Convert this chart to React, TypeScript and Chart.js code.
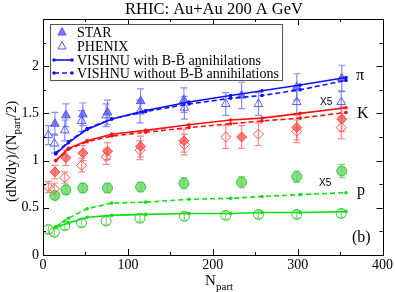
import React, { useEffect, useRef } from 'react';
import { Chart, registerables } from 'chart.js';
Chart.register(...registerables);

// ---- data ----
const starN = [14, 27, 47, 76, 115, 166, 234, 299, 352];
const phenixN = [6.3, 13.4, 25.7, 45.5, 74.4, 114.2, 166.6, 215.3, 253.9, 299, 351.4];
const modelN = [15, 30, 52, 81, 121, 172, 221, 258, 303, 357];

const starPi = [1.39, 1.48, 1.49, 1.51, 1.63, 1.64, 1.69, 1.78, 1.87];
const starPiErr = [0.12, 0.12, 0.12, 0.13, 0.13, 0.13, 0.14, 0.14, 0.14];
const phenixPi = [1.27, 1.18, 1.32, 1.42, 1.48, 1.52, 1.56, 1.6, 1.6, 1.62, 1.62];
const phenixPiErr = [0.1, 0.1, 0.11, 0.11, 0.12, 0.12, 0.12, 0.12, 0.12, 0.12, 0.12];

const starK = [0.88, 1.03, 1.08, 1.1, 1.15, 1.21, 1.25, 1.35, 1.44];
const starKErr = [0.07, 0.08, 0.08, 0.09, 0.11, 0.12, 0.12, 0.13, 0.13];
const phenixK = [0.72, 0.7, 0.82, 0.95, 1.04, 1.11, 1.17, 1.25, 1.28, 1.31, 1.35];
const phenixKErr = [0.06, 0.06, 0.06, 0.07, 0.08, 0.1, 0.11, 0.12, 0.12, 0.12, 0.12];

const starP = [0.63, 0.69, 0.71, 0.71, 0.72, 0.76, 0.77, 0.83, 0.89];
const starPErr = [0.04, 0.05, 0.05, 0.05, 0.05, 0.06, 0.06, 0.06, 0.07];
const phenixP = [0.27, 0.24, 0.31, 0.34, 0.36, 0.39, 0.41, 0.42, 0.43, 0.43, 0.44];
const phenixPErr = [0.04, 0.04, 0.04, 0.04, 0.04, 0.04, 0.04, 0.04, 0.04, 0.04, 0.04];

const piWith = [1.07, 1.19, 1.33, 1.44, 1.53, 1.62, 1.69, 1.74, 1.8, 1.88];
const piWithout = [1.08, 1.2, 1.34, 1.44, 1.52, 1.6, 1.66, 1.69, 1.75, 1.85];
const kWith = [1.0, 1.13, 1.21, 1.28, 1.32, 1.38, 1.43, 1.45, 1.5, 1.56];
const kWithout = [1.0, 1.12, 1.2, 1.26, 1.3, 1.35, 1.39, 1.42, 1.45, 1.51];
const pWith = [0.29, 0.34, 0.4, 0.42, 0.43, 0.44, 0.44, 0.45, 0.45, 0.46];
const pWithout = [0.3, 0.39, 0.49, 0.55, 0.56, 0.59, 0.6, 0.62, 0.64, 0.66];

const xTicks = [0, 100, 200, 300, 400];
const yTicks = [0, 0.5, 1, 1.5, 2, 2.5];

const SERIF = '"Liberation Serif", "DejaVu Serif", serif';
const BLUE = '#1010ff';
const RED = '#ff1010';
const GREEN = '#10e010';

const pts = (xs: number[], ys: number[]) => xs.map((x, i) => ({ x, y: ys[i] }));

function dataSet(xs: number[], ys: number[], errs: number[], style: string, fill: string, stroke: string, errColor: string, open: boolean) {
  return {
    data: pts(xs, ys),
    errors: errs,
    errColor,
    showLine: false,
    pointStyle: style,
    pointRadius: style === 'triangle' ? 5 : 5,
    backgroundColor: open ? 'rgba(0,0,0,0)' : fill,
    borderColor: stroke,
    borderWidth: 1,
  };
}

function modelSet(ys: number[], color: string, dashed: boolean) {
  return {
    data: pts(modelN, ys),
    showLine: true,
    borderColor: color,
    backgroundColor: color,
    borderWidth: 1.6,
    borderDash: dashed ? [5, 3] : [],
    pointRadius: 1.8,
    pointStyle: 'circle',
    pointBorderWidth: 0,
  };
}

const customPlugin = {
  id: 'custom',
  beforeDatasetsDraw(chart: any) {
    const ctx = chart.ctx;
    const ys = chart.scales.y;
    chart.data.datasets.forEach((ds: any, i: number) => {
      if (!ds.errors) return;
      const meta = chart.getDatasetMeta(i);
      ctx.save();
      ctx.strokeStyle = ds.errColor;
      ctx.lineWidth = 1.2;
      meta.data.forEach((el: any, j: number) => {
        const v = ds.data[j].y;
        const e = ds.errors[j];
        const x = el.x;
        const y1 = ys.getPixelForValue(v + e);
        const y2 = ys.getPixelForValue(v - e);
        ctx.beginPath();
        ctx.moveTo(x, y1); ctx.lineTo(x, y2);
        ctx.moveTo(x - 3.5, y1); ctx.lineTo(x + 3.5, y1);
        ctx.moveTo(x - 3.5, y2); ctx.lineTo(x + 3.5, y2);
        ctx.stroke();
      });
      ctx.restore();
    });
  },
  afterDraw(chart: any) {
    const ctx = chart.ctx;
    const a = chart.chartArea;
    const xs = chart.scales.x;
    const ys = chart.scales.y;
    ctx.save();
    // frame
    ctx.strokeStyle = '#000';
    ctx.lineWidth = 1;
    ctx.strokeRect(Math.round(a.left) + 0.5, Math.round(a.top) + 0.5, Math.round(a.right - a.left), Math.round(a.bottom - a.top));
    // ticks
    ctx.beginPath();
    for (let v = 0; v <= 400; v += 50) {
      const x = Math.round(xs.getPixelForValue(v)) + 0.5;
      const L = v % 100 === 0 ? 6 : 3;
      ctx.moveTo(x, a.bottom); ctx.lineTo(x, a.bottom - L);
      ctx.moveTo(x, a.top); ctx.lineTo(x, a.top + L);
    }
    for (let v = 0; v <= 2.5001; v += 0.25) {
      const y = Math.round(ys.getPixelForValue(v)) + 0.5;
      const major = Math.abs(v * 2 - Math.round(v * 2)) < 1e-6;
      const L = major ? 6 : 3;
      ctx.moveTo(a.left, y); ctx.lineTo(a.left + L, y);
      ctx.moveTo(a.right, y); ctx.lineTo(a.right - L, y);
    }
    ctx.stroke();

    // title
    ctx.fillStyle = '#000';
    ctx.font = `16.5px ${SERIF}`;
    ctx.textAlign = 'center';
    ctx.textBaseline = 'middle';
    ctx.fillText('RHIC: Au+Au 200 A GeV', 214, 10);

    // x title
    ctx.textAlign = 'left';
    ctx.textBaseline = 'alphabetic';
    ctx.font = `15px ${SERIF}`;
    ctx.fillText('N', 205, 285);
    ctx.font = `11px ${SERIF}`;
    ctx.fillText('part', 216, 290);

    // y title
    ctx.save();
    ctx.translate(16, 202);
    ctx.rotate(-Math.PI / 2);
    ctx.font = `15px ${SERIF}`;
    let s1 = '(dN/dy)/(N';
    ctx.fillText(s1, 0, 0);
    let w = ctx.measureText(s1).width;
    ctx.font = `11px ${SERIF}`;
    ctx.fillText('part', w, 4);
    w += ctx.measureText('part').width;
    ctx.font = `15px ${SERIF}`;
    ctx.fillText('/2)', w, 0);
    ctx.restore();

    // annotations
    ctx.font = `16px ${SERIF}`;
    ctx.textBaseline = 'middle';
    ctx.fillText('\u03C0', 356, 76);
    ctx.fillText('K', 357, 114);
    ctx.fillText('p', 357, 191);
    ctx.fillText('(b)', 352, 238);
    ctx.font = '10px "Liberation Sans", Arial, sans-serif';
    ctx.fillText('X5', 320, 102);
    ctx.fillText('X5', 319, 183);

    // legend
    ctx.fillStyle = '#fff';
    ctx.fillRect(50, 24, 232, 56);
    ctx.strokeStyle = '#555';
    ctx.lineWidth = 1;
    ctx.strokeRect(50.5, 24.5, 232, 56);
    const rows = [32, 46, 60, 73];
    const tri = (cx: number, cy: number, fill: boolean) => {
      ctx.beginPath();
      ctx.moveTo(cx, cy - 4.5);
      ctx.lineTo(cx + 4, cy + 3);
      ctx.lineTo(cx - 4, cy + 3);
      ctx.closePath();
      if (fill) { ctx.fillStyle = 'rgba(90,90,255,0.8)'; ctx.fill(); }
      ctx.strokeStyle = '#5555ff';
      ctx.stroke();
    };
    tri(62, rows[0], true);
    tri(62, rows[1], false);
    ctx.strokeStyle = BLUE;
    ctx.fillStyle = BLUE;
    ctx.lineWidth = 1.6;
    for (let k = 2; k < 4; k++) {
      ctx.setLineDash(k === 3 ? [5, 3] : []);
      ctx.beginPath();
      ctx.moveTo(54, rows[k]); ctx.lineTo(72, rows[k]);
      ctx.stroke();
      ctx.setLineDash([]);
      ctx.beginPath(); ctx.arc(54, rows[k], 1.8, 0, Math.PI * 2); ctx.fill();
      ctx.beginPath(); ctx.arc(72, rows[k], 1.8, 0, Math.PI * 2); ctx.fill();
    }
    ctx.fillStyle = '#000';
    ctx.font = `14px ${SERIF}`;
    ctx.textAlign = 'left';
    ctx.textBaseline = 'middle';
    const labels = ['STAR', 'PHENIX', 'VISHNU with B-B\u0304 annihilations', 'VISHNU without B-B\u0304 annihilations'];
    labels.forEach((t, k) => ctx.fillText(t, 77, rows[k] + 1));
    ctx.restore();
  },
};

export default function App() {
  const ref = useRef<HTMLCanvasElement>(null);
  useEffect(() => {
    if (!ref.current) return;
    const chart = new Chart(ref.current, {
      type: 'scatter',
      data: {
        datasets: [
          modelSet(piWith, BLUE, false),
          modelSet(piWithout, BLUE, true),
          modelSet(kWith, RED, false),
          modelSet(kWithout, RED, true),
          modelSet(pWith, GREEN, false),
          modelSet(pWithout, GREEN, true),
          dataSet(starN, starPi, starPiErr, 'triangle', 'rgba(90,90,255,0.75)', '#5555ff', 'rgba(100,100,255,0.75)', false),
          dataSet(phenixN, phenixPi, phenixPiErr, 'triangle', '', '#5a5aff', 'rgba(100,100,255,0.75)', true),
          dataSet(starN, starK, starKErr, 'rectRot', 'rgba(255,80,80,0.75)', '#ff4a4a', 'rgba(255,100,100,0.75)', false),
          dataSet(phenixN, phenixK, phenixKErr, 'rectRot', '', '#ff5050', 'rgba(255,100,100,0.75)', true),
          dataSet(starN, starP, starPErr, 'circle', 'rgba(90,215,90,0.75)', '#44c044', 'rgba(90,215,90,0.8)', false),
          dataSet(phenixN, phenixP, phenixPErr, 'circle', '', '#44c044', 'rgba(90,215,90,0.8)', true),
        ] as any,
      },
      options: {
        responsive: false,
        animation: false,
        layout: { padding: { top: 19, right: 12, left: 0, bottom: 0 } },
        plugins: { legend: { display: false }, tooltip: { enabled: false }, title: { display: false } },
        scales: {
          x: {
            type: 'linear',
            min: 0,
            max: 400,
            afterFit: (s: any) => { s.height = 37; },
            afterBuildTicks: (s: any) => { s.ticks = xTicks.map((v) => ({ value: v })); },
            grid: { display: false, drawTicks: false },
            border: { display: false },
            ticks: { padding: 2, color: '#000', font: { family: SERIF, size: 14 }, maxRotation: 0, autoSkip: false },
          },
          y: {
            type: 'linear',
            min: 0,
            max: 2.5,
            afterFit: (s: any) => { s.width = 43; },
            afterBuildTicks: (s: any) => { s.ticks = yTicks.map((v) => ({ value: v })); },
            grid: { display: false, drawTicks: false },
            border: { display: false },
            ticks: {
              padding: 4,
              color: '#000',
              font: { family: SERIF, size: 14 },
              autoSkip: false,
              callback: (v: any) => (Number(v) >= 2.5 ? '' : String(v)),
            },
          },
        },
      } as any,
      plugins: [customPlugin],
    });
    return () => chart.destroy();
  }, []);
  return (
    <div style={{ position: 'fixed', left: 0, top: 0, width: 395, height: 292, background: '#fff' }}>
      <canvas ref={ref} width={395} height={292} />
    </div>
  );
}
